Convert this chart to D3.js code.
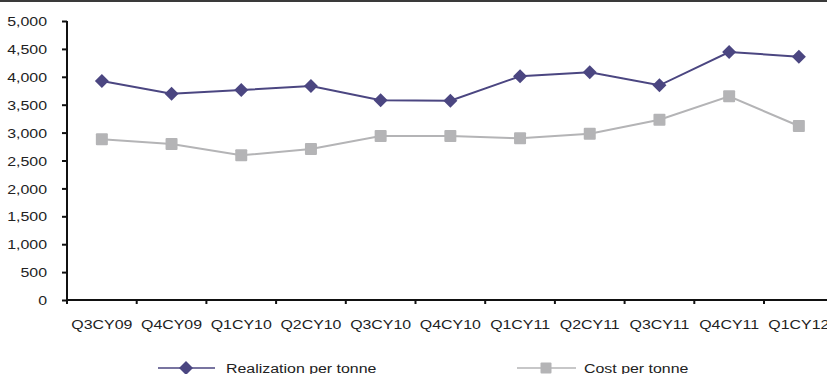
<!DOCTYPE html>
<html>
<head>
<meta charset="utf-8">
<script src="https://cdn.jsdelivr.net/npm/d3@7"></script>
<style>
  html, body { margin: 0; padding: 0; background: #fff; }
  svg { display: block; font-family: "Liberation Sans", Arial, sans-serif; }
</style>
</head>
<body>
<svg id="chart" width="827" height="374"></svg>
<script>
// Quarterly realization and cost per tonne
const quarters = ["Q3CY09", "Q4CY09", "Q1CY10", "Q2CY10", "Q3CY10", "Q4CY10",
                  "Q1CY11", "Q2CY11", "Q3CY11", "Q4CY11", "Q1CY12"];
const realization = [3925, 3697, 3763, 3835, 3579, 3572, 4009, 4081, 3848, 4444, 4360];
const cost = [2880, 2796, 2593, 2706, 2939, 2939, 2898, 2980, 3231, 3650, 3118];
const yTicks = [0, 500, 1000, 1500, 2000, 2500, 3000, 3500, 4000, 4500, 5000];

const seriesNames = ["Realization per tonne", "Cost per tonne"];
const colors = ["#4b4681", "#b4b4b6"];

const svg = d3.select("#chart");
const plotLeft = 67, plotTop = 21, plotBottom = 300;
const band = 69.7;
const textColor = "#222";
const fontSize = 13.5;
const stretch = 1.18; // labels are set slightly wide

const x = d3.scaleBand().domain(quarters).range([plotLeft, plotLeft + band * quarters.length]);
const y = d3.scaleLinear().domain([0, 5000]).range([plotBottom, plotTop]);

// widened text placed at (px, py)
function label(g, px, py, str, anchor) {
  return g.append("text")
    .attr("transform", `translate(${px},${py}) scale(${stretch},1)`)
    .attr("text-anchor", anchor || "start")
    .attr("fill", textColor).attr("font-size", fontSize)
    .text(str);
}

// frame line along the top edge
svg.append("rect").attr("x", 0).attr("y", 0).attr("width", 827).attr("height", 2).attr("fill", "#3a3a3a");

// y axis
const yAxis = svg.append("g").attr("transform", `translate(${plotLeft},0)`)
  .call(d3.axisLeft(y).tickValues(yTicks).tickSize(5).tickFormat(d3.format(",")));
yAxis.select(".domain").attr("stroke", "#111").attr("stroke-width", 2).attr("d", `M0,${plotTop}V${plotBottom}`);
yAxis.selectAll(".tick line").attr("stroke", "#111").attr("stroke-width", 2);
yAxis.selectAll(".tick text")
  .attr("x", null).attr("dy", "0.34em")
  .attr("transform", `translate(-20,0) scale(${stretch},1)`)
  .attr("fill", textColor).attr("font-size", fontSize)
  .attr("font-family", "Liberation Sans, Arial, sans-serif");

// x axis with ticks on category boundaries
const xAxis = svg.append("g").attr("transform", `translate(0,${plotBottom})`);
xAxis.append("line").attr("x1", plotLeft - 1).attr("x2", 827).attr("y1", 0).attr("y2", 0)
  .attr("stroke", "#111").attr("stroke-width", 2);
xAxis.selectAll(".xt").data(quarters).enter().append("line")
  .attr("x1", d => x(d)).attr("x2", d => x(d)).attr("y1", 0).attr("y2", 4)
  .attr("stroke", "#111").attr("stroke-width", 2);
quarters.forEach(q => label(xAxis, x(q) + x.bandwidth() / 2, 28.5, q, "middle"));

const cx = d => x(d) + x.bandwidth() / 2;
const line = d3.line().x((d, i) => cx(quarters[i])).y(d => y(d));

function diamond(g, px, py, r, col) {
  g.append("path").attr("d", `M${px},${py - r}L${px + r},${py}L${px},${py + r}L${px - r},${py}Z`).attr("fill", col);
}
function square(g, px, py, s, col) {
  g.append("rect").attr("x", px - s / 2).attr("y", py - s / 2).attr("width", s).attr("height", s)
    .attr("rx", 1).attr("fill", col);
}

// cost series
svg.append("path").datum(cost).attr("d", line).attr("fill", "none")
  .attr("stroke", colors[1]).attr("stroke-width", 2);
const gc = svg.append("g");
cost.forEach((v, i) => square(gc, cx(quarters[i]), y(v), 12, colors[1]));

// realization series
svg.append("path").datum(realization).attr("d", line).attr("fill", "none")
  .attr("stroke", colors[0]).attr("stroke-width", 2);
const gr = svg.append("g");
realization.forEach((v, i) => diamond(gr, cx(quarters[i]), y(v), 7, colors[0]));

// legend
const ly = 368;
const lg = svg.append("g");
lg.append("line").attr("x1", 158).attr("x2", 215).attr("y1", ly).attr("y2", ly).attr("stroke", colors[0]).attr("stroke-width", 1.5);
diamond(lg, 186, ly, 7, colors[0]);
label(lg, 226, ly + 4.5, seriesNames[0]);
lg.append("line").attr("x1", 517).attr("x2", 576).attr("y1", ly).attr("y2", ly).attr("stroke", colors[1]).attr("stroke-width", 1.5);
square(lg, 546, ly, 11, colors[1]);
label(lg, 584, ly + 4.5, seriesNames[1]);
</script>
</body>
</html>
